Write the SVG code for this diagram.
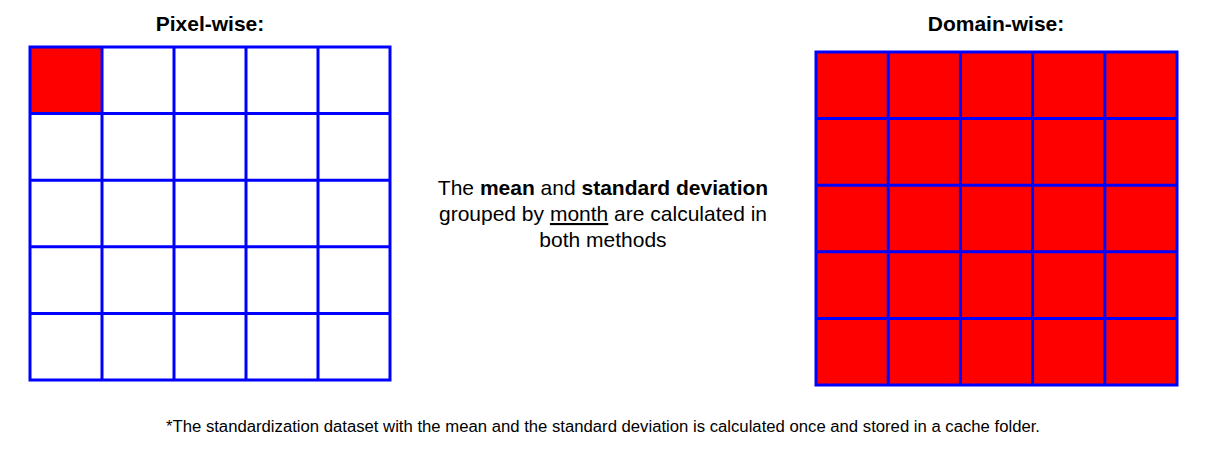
<svg xmlns="http://www.w3.org/2000/svg" width="1210" height="450" viewBox="0 0 1210 450">
<style>
.t{font-family:"Liberation Sans",Arial,sans-serif;fill:#000}
.title{font-size:21px;font-weight:bold;text-anchor:middle}
.mid{font-size:21px;text-anchor:middle}
.foot{font-size:16px}
.grid{stroke:#0000ff;stroke-width:3;fill:none}
</style>
<rect width="1210" height="450" fill="#fff"/>
<g id="pixel-wise">
<text class="t title" x="210" y="31">Pixel-wise:</text>
<rect x="30" y="47" width="72" height="66.6" fill="#ff0000"/>
<g class="grid">
<rect x="30" y="47" width="360" height="333"/>
<path d="M102 47V380M174 47V380M246 47V380M318 47V380M30 113.6H390M30 180.2H390M30 246.8H390M30 313.4H390"/>
</g>
</g>
<g id="domain-wise">
<text class="t title" x="996" y="31">Domain-wise:</text>
<rect x="816" y="52" width="361" height="333" fill="#ff0000"/>
<g class="grid">
<rect x="816" y="52" width="361" height="333"/>
<path d="M888.2 52V385M960.4 52V385M1032.6 52V385M1104.8 52V385M816 118.6H1177M816 185.2H1177M816 251.8H1177M816 318.4H1177"/>
</g>
</g>
<g id="description">
<text class="t mid" x="603" y="195">The <tspan font-weight="bold">mean</tspan> and <tspan font-weight="bold">standard deviation</tspan></text>
<text class="t mid" x="603" y="221">grouped by <tspan text-decoration="underline">month</tspan> are calculated in</text>
<text class="t mid" x="603" y="247">both methods</text>
</g>
<g id="footnote">
<text class="t foot" x="166" y="432" textLength="874" lengthAdjust="spacingAndGlyphs">*The standardization dataset with the mean and the standard deviation is calculated once and stored in a cache folder.</text>
</g>
</svg>
